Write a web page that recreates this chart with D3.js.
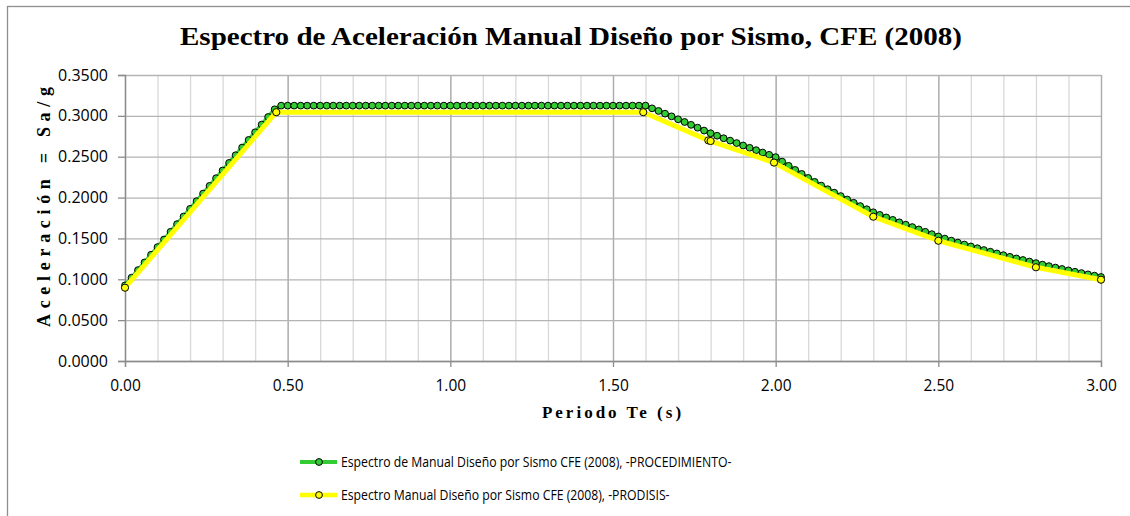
<!DOCTYPE html>
<html><head><meta charset="utf-8">
<script src="https://cdn.jsdelivr.net/npm/d3@7"></script>
<style>
html,body{margin:0;padding:0;background:#fff;}
svg{display:block;}
</style></head>
<body><svg id="chart" width="1130" height="516"></svg>
<script>
const titleText = "Espectro de Aceleración Manual Diseño por Sismo, CFE (2008)";
const xLabel = "Periodo Te (s)";
const yLabel = "Aceleración = Sa/g";
const seriesNames = ["Espectro de Manual Diseño por Sismo CFE (2008), -PROCEDIMIENTO-",
                     "Espectro Manual Diseño por Sismo CFE (2008), -PRODISIS-"];
const xTicksMajor = [0, 0.5, 1.0, 1.5, 2.0, 2.5, 3.0];
const xTicksMinor = [0,0.1,0.2,0.3,0.4,0.5,0.6,0.7,0.8,0.9,1.0,1.1,1.2,1.3,1.4,1.5,1.6,1.7,1.8,1.9,2.0,2.1,2.2,2.3,2.4,2.5,2.6,2.7,2.8,2.9,3.0];
const yTicks = [0, 0.05, 0.10, 0.15, 0.20, 0.25, 0.30, 0.35];

// Series 1 (green) - PROCEDIMIENTO
const periodsProc = [
0.00,0.02,0.04,0.06,0.08,0.10,0.12,0.14,0.16,0.18,0.20,0.22,0.24,0.26,0.28,0.30,0.32,0.34,0.36,0.38,0.40,0.42,0.44,0.46,
0.48,0.50,0.52,0.54,0.56,0.58,0.60,0.62,0.64,0.66,0.68,0.70,0.72,0.74,0.76,0.78,0.80,0.82,0.84,0.86,0.88,0.90,0.92,0.94,0.96,0.98,
1.00,1.02,1.04,1.06,1.08,1.10,1.12,1.14,1.16,1.18,1.20,1.22,1.24,1.26,1.28,1.30,1.32,1.34,1.36,1.38,1.40,1.42,1.44,1.46,1.48,
1.50,1.52,1.54,1.56,1.58,1.60,
1.62,1.64,1.66,1.68,1.70,1.72,1.74,1.76,1.78,1.80,1.82,1.84,1.86,1.88,1.90,1.92,1.94,1.96,1.98,2.00,
2.02,2.04,2.06,2.08,2.10,2.12,2.14,2.16,2.18,2.20,2.22,2.24,2.26,2.28,2.30,
2.32,2.34,2.36,2.38,2.40,2.42,2.44,2.46,2.48,2.50,
2.52,2.54,2.56,2.58,2.60,2.62,2.64,2.66,2.68,2.70,2.72,2.74,2.76,2.78,2.80,
2.82,2.84,2.86,2.88,2.90,2.92,2.94,2.96,2.98,3.00];
const accelProc = [
0.0925,0.1019,0.1112,0.1206,0.1300,0.1394,0.1487,0.1581,0.1675,0.1768,0.1862,0.1956,0.2049,0.2143,0.2237,0.2331,0.2424,0.2518,0.2612,0.2705,0.2799,0.2893,0.2986,0.3080,
0.3125,0.3125,0.3125,0.3125,0.3125,0.3125,0.3125,0.3125,0.3125,0.3125,0.3125,0.3125,0.3125,0.3125,0.3125,0.3125,0.3125,0.3125,0.3125,0.3125,0.3125,0.3125,0.3125,0.3125,0.3125,0.3125,
0.3125,0.3125,0.3125,0.3125,0.3125,0.3125,0.3125,0.3125,0.3125,0.3125,0.3125,0.3125,0.3125,0.3125,0.3125,0.3125,0.3125,0.3125,0.3125,0.3125,0.3125,0.3125,0.3125,0.3125,0.3125,
0.3125,0.3125,0.3125,0.3125,0.3125,0.3125,
0.3092,0.3060,0.3027,0.2994,0.2958,0.2925,0.2890,0.2855,0.2820,0.2787,0.2757,0.2726,0.2697,0.2667,0.2637,0.2609,0.2580,0.2551,0.2523,0.2495,
0.2440,0.2388,0.2338,0.2289,0.2240,0.2192,0.2147,0.2102,0.2060,0.2018,0.1976,0.1936,0.1896,0.1857,0.1820,
0.1788,0.1757,0.1727,0.1697,0.1668,0.1639,0.1610,0.1581,0.1552,0.1524,
0.1498,0.1473,0.1449,0.1425,0.1402,0.1380,0.1358,0.1337,0.1316,0.1295,0.1275,0.1255,0.1236,0.1217,0.1198,
0.1179,0.1161,0.1143,0.1126,0.1109,0.1092,0.1076,0.1060,0.1044,0.1028];

// Series 2 (yellow) - PRODISIS
const periodsProd = [0.00, 0.465, 1.593, 1.793, 1.80, 1.995, 2.30, 2.50, 2.80, 3.00];
const accelProd   = [0.0897, 0.3045, 0.3045, 0.2700, 0.2692, 0.2428, 0.1766, 0.1472, 0.1147, 0.0995];

const greenColor = "#33cc33", yellowColor = "#ffff00";

const svg = d3.select("#chart");
const x = d3.scaleLinear().domain([0, 3]).range([125, 1101]);
const y = d3.scaleLinear().domain([0, 0.35]).range([361, 75]);

// outer chart border
svg.append("rect").attr("x", 7.5).attr("y", 6.5).attr("width", 1140).attr("height", 530)
  .attr("fill", "#fff").attr("stroke", "#8e8e8e").attr("stroke-width", 1.3);

// grid: minor vertical
svg.append("g").attr("transform", `translate(0,361)`)
  .call(d3.axisBottom(x).tickValues(xTicksMinor).tickSize(-286).tickFormat(""))
  .call(g => g.select(".domain").remove())
  .call(g => g.selectAll("line").attr("stroke", "#d9d9d9").attr("stroke-width", 1.3));
// grid: major vertical
svg.append("g").attr("transform", `translate(0,361)`)
  .call(d3.axisBottom(x).tickValues(xTicksMajor).tickSize(-286).tickFormat(""))
  .call(g => g.select(".domain").remove())
  .call(g => g.selectAll("line").attr("stroke", "#ababab").attr("stroke-width", 1.3));
// grid: horizontal
svg.append("g").attr("transform", `translate(125,0)`)
  .call(d3.axisLeft(y).tickValues(yTicks).tickSize(-976).tickFormat(""))
  .call(g => g.select(".domain").remove())
  .call(g => g.selectAll("line").attr("stroke", "#b4b4b4").attr("stroke-width", 1.3));

// axes
const tickFont = "'Open Sans', sans-serif";
svg.append("g").attr("transform", `translate(125,0)`)
  .call(d3.axisLeft(y).tickValues(yTicks).tickSize(7).tickPadding(10).tickFormat(d3.format(".4f")))
  .call(g => g.select(".domain").attr("stroke", "#8c8c8c").attr("stroke-width", 1.3))
  .call(g => g.selectAll("line").attr("stroke", "#8c8c8c").attr("stroke-width", 1.3))
  .call(g => g.selectAll("text").attr("font-family", tickFont).attr("font-size", 16).attr("fill", "#000"));
svg.append("g").attr("transform", `translate(0,361)`)
  .call(d3.axisBottom(x).tickValues(xTicksMajor).tickSize(6).tickPadding(13).tickFormat(d3.format(".2f")))
  .call(g => g.select(".domain").attr("stroke", "#8c8c8c").attr("stroke-width", 1.3))
  .call(g => g.selectAll("line").attr("stroke", "#8c8c8c").attr("stroke-width", 1.3))
  .call(g => g.selectAll("text").attr("font-family", tickFont).attr("font-size", 15.5).attr("fill", "#000"));

// series
const procData = periodsProc.map((t, i) => [t, accelProc[i]]);
const prodData = periodsProd.map((t, i) => [t, accelProd[i]]);
const line = d3.line().x(d => x(d[0])).y(d => y(d[1]));

svg.append("path").datum(procData).attr("d", line)
  .attr("fill", "none").attr("stroke", greenColor).attr("stroke-width", 4).attr("stroke-linejoin", "round");
svg.append("g").selectAll("circle").data(procData).join("circle")
  .attr("cx", d => x(d[0])).attr("cy", d => y(d[1])).attr("r", 3.4)
  .attr("fill", greenColor).attr("stroke", "#000").attr("stroke-width", 1);

svg.append("path").datum(prodData).attr("d", line)
  .attr("fill", "none").attr("stroke", yellowColor).attr("stroke-width", 5).attr("stroke-linejoin", "round");
svg.append("g").selectAll("circle").data(prodData).join("circle")
  .attr("cx", d => x(d[0])).attr("cy", d => y(d[1])).attr("r", 3.6)
  .attr("fill", yellowColor).attr("stroke", "#000").attr("stroke-width", 1);

// title
svg.append("text").attr("x", 571).attr("y", 45).attr("text-anchor", "middle")
  .attr("font-family", "'Liberation Serif', 'Times New Roman', serif").attr("font-weight", "bold")
  .attr("font-size", 25).attr("textLength", 782).attr("lengthAdjust", "spacingAndGlyphs")
  .text(titleText);

// axis titles
svg.append("text").attr("transform", "translate(50,207) rotate(-90)").attr("text-anchor", "middle")
  .attr("font-family", "'Liberation Serif', 'Times New Roman', serif").attr("font-weight", "bold")
  .attr("font-size", 18).attr("textLength", 240).attr("lengthAdjust", "spacing")
  .text(yLabel);
svg.append("text").attr("x", 613).attr("y", 418).attr("text-anchor", "middle")
  .attr("font-family", "'Liberation Serif', 'Times New Roman', serif").attr("font-weight", "bold")
  .attr("font-size", 17).attr("letter-spacing", "3px")
  .text(xLabel);

// legend
const legendY = [462, 495];
const legendColors = [greenColor, yellowColor];
const lg = svg.append("g");
seriesNames.forEach((name, i) => {
  lg.append("line").attr("x1", 300).attr("x2", 337).attr("y1", legendY[i]).attr("y2", legendY[i])
    .attr("stroke", legendColors[i]).attr("stroke-width", i === 0 ? 4 : 4.5);
  lg.append("circle").attr("cx", 319).attr("cy", legendY[i]).attr("r", 3.4)
    .attr("fill", legendColors[i]).attr("stroke", "#000").attr("stroke-width", 1);
  const t = lg.append("text").attr("x", 341).attr("y", legendY[i]).attr("dy", "0.36em")
    .attr("font-family", tickFont).attr("font-size", 15).attr("fill", "#000")
    .text(name);
  const natural = t.node().getComputedTextLength();
  t.attr("textLength", natural * 0.815).attr("lengthAdjust", "spacingAndGlyphs");
});
</script>
</body></html>
